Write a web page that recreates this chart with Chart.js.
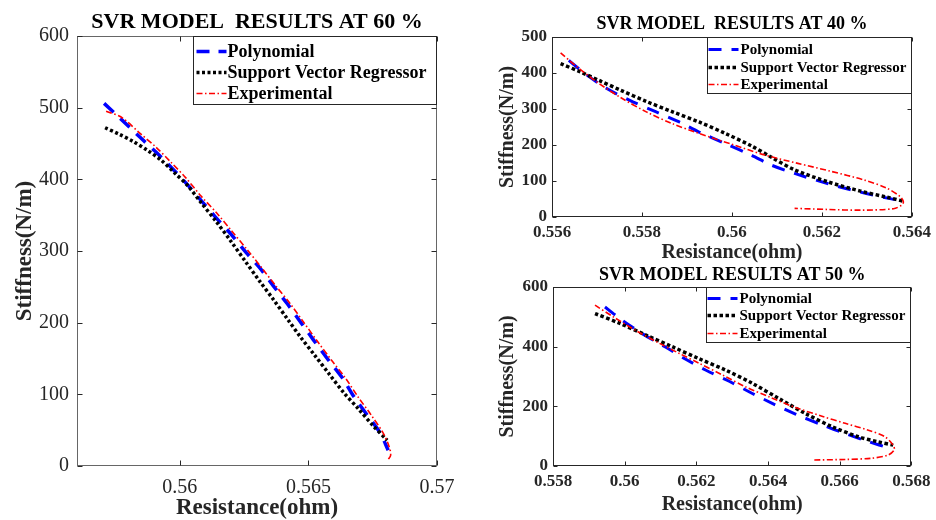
<!DOCTYPE html>
<html>
<head>
<meta charset="utf-8">
<script src="https://cdn.jsdelivr.net/npm/chart.js@4.4.0/dist/chart.umd.min.js"></script>
<style>
html,body{margin:0;padding:0;background:#fff;}
#wrap{position:relative;width:936px;height:520px;overflow:hidden;background:#fff;}
canvas{position:absolute;left:0;top:0;}
</style>
</head>
<body>
<div id="wrap">
<canvas id="c60" width="936" height="520"></canvas>
<canvas id="c40" width="936" height="520"></canvas>
<canvas id="c50" width="936" height="520"></canvas>
</div>
<script>
// ---------- DATA ----------
const seriesNames = ['Polynomial', 'Support Vector Regressor', 'Experimental'];

// 60 %
const res60Poly = [0.557054,0.557713,0.558411,0.559070,0.559574,0.560233,0.560814,0.561395,0.561977,0.562597,0.563140,0.563643,0.564186,0.564690,0.565194,0.565775,0.566318,0.566744,0.567287,0.567791,0.568101];
const stf60Poly = [506,484,460,438,420,395,371,347,324,297,275,251,226,201,176,148,123,98,71,46,22];
const res60Svr = [0.557093,0.557636,0.558178,0.558760,0.559264,0.559767,0.560310,0.560814,0.561395,0.561977,0.562558,0.563101,0.563643,0.564186,0.564690,0.565233,0.565814,0.566357,0.566938,0.567519,0.568062];
const stf60Svr = [472,463,453,440,427,410,391,368,342,314,285,258,232,205,180,155,128,103,80,56,36];
const res60Exp = [0.557132,0.557713,0.558488,0.559070,0.559651,0.560233,0.560814,0.561434,0.562016,0.562636,0.563217,0.563760,0.564302,0.564806,0.565349,0.565891,0.566434,0.566938,0.567442,0.567907,0.568140,0.568198,0.568101];
const stf60Exp = [495,487,463,445,424,402,377,353,328,301,275,250,226,201,174,148,123,96,71,46,27,15,9];

// 40 %
const res40Poly = [0.556374,0.556778,0.557218,0.557730,0.558316,0.558829,0.559268,0.559855,0.560440,0.560879,0.561393,0.562125,0.562857,0.563516,0.563774];
const stf40Poly = [435,394,357,324,292,264,236,204,171,144,121,93,69,51,46];
const res40Svr = [0.556191,0.556631,0.557071,0.557510,0.558097,0.558681,0.559268,0.559855,0.560440,0.560879,0.561393,0.562125,0.562857,0.563444,0.563811];
const stf40Svr = [426,403,378,353,321,292,264,232,197,166,131,98,72,55,44];
const res40Exp = [0.556191,0.556558,0.556998,0.557510,0.558097,0.558681,0.559268,0.560000,0.560734,0.561466,0.562198,0.562932,0.563444,0.563736,0.563811,0.563774,0.563591,0.562857,0.562125,0.561393];
const stf40Exp = [456,417,375,333,292,259,232,202,172,149,127,103,80,57,42,33,23,19,21,24];

// 50 %
const res50Poly = [0.559450,0.559958,0.560512,0.561161,0.561716,0.562271,0.562916,0.563563,0.564117,0.564766,0.565504,0.566152,0.566799,0.567400];
const stf50Poly = [533,486,442,397,357,321,284,243,210,174,138,109,82,59];
const res50Svr = [0.559173,0.559866,0.560607,0.561344,0.562067,0.562825,0.563563,0.564303,0.565043,0.565781,0.566521,0.567076,0.567492];
const stf50Svr = [511,478,438,399,360,321,277,226,176,132,98,81,70];
const res50Exp = [0.559173,0.559681,0.560329,0.560975,0.561530,0.562084,0.562731,0.563380,0.564026,0.564766,0.565504,0.566152,0.566799,0.567262,0.567492,0.567520,0.567353,0.566891,0.566152,0.565274];
const stf50Exp = [539,500,453,411,377,344,305,265,232,196,167,143,120,98,70,54,37,26,22,20];

// tick values and labels
const xTicks60 = [0.56, 0.565, 0.57];
const xLabels60 = ['0.56', '0.565', '0.57'];
const yTicks60 = [0, 100, 200, 300, 400, 500, 600];
const xTicks40 = [0.556, 0.558, 0.56, 0.562, 0.564];
const xLabels40 = ['0.556', '0.558', '0.56', '0.562', '0.564'];
const yTicks40 = [0, 100, 200, 300, 400, 500];
const xTicks50 = [0.558, 0.56, 0.562, 0.564, 0.566, 0.568];
const xLabels50 = ['0.558', '0.56', '0.562', '0.564', '0.566', '0.568'];
const yTicks50 = [0, 200, 400, 600];

const titles = ['SVR MODEL  RESULTS AT 60 %', 'SVR MODEL  RESULTS AT 40 %', 'SVR MODEL RESULTS AT 50 %'];
const xTitle = 'Resistance(ohm)';
const yTitle = 'Stiffness(N/m)';

// ---------- RENDERING ----------
const FONT = "'Liberation Serif','Times New Roman',serif";

function pts(xs, ys) { return xs.map((x, i) => ({ x: x, y: ys[i] })); }

function makeSets(px, py, sx, sy, ex, ey, st) {
  return [
    { label: seriesNames[0], data: pts(px, py), borderColor: '#0000ff', borderWidth: st.polyW, borderDash: st.polyDash, order: 3 },
    { label: seriesNames[1], data: pts(sx, sy), borderColor: '#000000', borderWidth: st.svrW, borderDash: st.svrDash, order: 2 },
    { label: seriesNames[2], data: pts(ex, ey), borderColor: '#ff0000', borderWidth: st.expW, borderDash: st.expDash, order: 1 }
  ].map(d => Object.assign(d, { showLine: true, pointRadius: 0, tension: 0.3, fill: false, borderCapStyle: 'butt' }));
}

const frameLegendPlugin = {
  id: 'frameLegend',
  afterDraw(chart, args, o) {
    const ctx = chart.ctx, a = chart.chartArea, xs = chart.scales.x, ys = chart.scales.y;
    ctx.save();
    const L = Math.round(a.left) + 0.5, R = Math.round(a.right) - 0.5;
    const T = Math.round(a.top) + 0.5, B = Math.round(a.bottom) - 0.5;
    ctx.lineWidth = 1;
    ctx.setLineDash([]);
    ctx.strokeStyle = o.frameColor;
    ctx.strokeRect(L, T, R - L, B - T);
    ctx.strokeStyle = o.tickColor;
    ctx.beginPath();
    xs.ticks.forEach(t => {
      const p = Math.round(xs.getPixelForValue(t.value)) + 0.5;
      ctx.moveTo(p, B); ctx.lineTo(p, B - o.tickLen);
      ctx.moveTo(p, T); ctx.lineTo(p, T + o.tickLen);
    });
    ys.ticks.forEach(t => {
      const p = Math.round(ys.getPixelForValue(t.value)) + 0.5;
      ctx.moveTo(L, p); ctx.lineTo(L + o.tickLen, p);
      ctx.moveTo(R, p); ctx.lineTo(R - o.tickLen, p);
    });
    ctx.stroke();
    // legend box inside the plot, top-right
    const lg = o.legend;
    const bx = R - lg.width, by = T;
    ctx.fillStyle = '#ffffff';
    ctx.fillRect(bx, by, lg.width, lg.height);
    ctx.strokeStyle = lg.border;
    ctx.strokeRect(bx, by, lg.width, lg.height);
    chart.data.datasets.forEach((ds, i) => {
      const y = Math.round(by + lg.rowTop + i * lg.rowGap) + 0.5;
      ctx.save();
      ctx.strokeStyle = ds.borderColor;
      ctx.lineWidth = ds.borderWidth;
      ctx.lineCap = 'butt';
      ctx.setLineDash(ds.borderDash || []);
      ctx.beginPath();
      ctx.moveTo(bx + lg.s0, y);
      ctx.lineTo(bx + lg.s1, y);
      ctx.stroke();
      ctx.restore();
      ctx.fillStyle = '#000';
      ctx.font = lg.font;
      ctx.textBaseline = 'middle';
      ctx.textAlign = 'left';
      ctx.fillText(ds.label, bx + lg.textX, y + 1);
    });
    ctx.restore();
  }
};

function fixedTicks(arr) { return s => { s.ticks = arr.map(v => ({ value: v })); }; }

function makeChart(id, cfg) {
  return new Chart(document.getElementById(id), {
    type: 'scatter',
    data: { datasets: cfg.datasets },
    options: {
      responsive: false,
      animation: false,
      devicePixelRatio: 1,
      events: [],
      layout: { padding: cfg.padding },
      plugins: {
        legend: { display: false },
        tooltip: { enabled: false },
        title: {
          display: true, text: cfg.title, color: '#000', fullSize: false,
          font: { family: FONT, size: cfg.titleSize, weight: 'bold' },
          padding: cfg.titlePad
        },
        frameLegend: cfg.frame
      },
      scales: {
        x: {
          type: 'linear', position: 'bottom', min: cfg.xMin, max: cfg.xMax,
          afterBuildTicks: fixedTicks(cfg.xTicks),
          afterFit: s => { s.height = cfg.xH; },
          grid: { display: false, drawTicks: false },
          border: { display: false },
          ticks: {
            autoSkip: false, maxRotation: 0, minRotation: 0, padding: cfg.xTickPad, color: '#262626',
            font: { family: FONT, size: cfg.tickSize, weight: cfg.tickWeight },
            callback: (v, i) => cfg.xLabels[i]
          },
          title: {
            display: true, text: xTitle, color: '#262626',
            font: { family: FONT, size: cfg.axTitleSize, weight: 'bold', lineHeight: 1 },
            padding: { top: 0, bottom: cfg.xTitlePad }
          }
        },
        y: {
          type: 'linear', position: 'left', min: cfg.yMin, max: cfg.yMax,
          afterBuildTicks: fixedTicks(cfg.yTicks),
          afterFit: s => { s.width = cfg.yW; },
          grid: { display: false, drawTicks: false },
          border: { display: false },
          ticks: {
            autoSkip: false, padding: cfg.yTickPad, color: '#262626',
            font: { family: FONT, size: cfg.tickSize, weight: cfg.tickWeight },
            callback: v => String(v)
          },
          title: {
            display: true, text: yTitle, color: '#262626',
            font: { family: FONT, size: cfg.axTitleSize, weight: 'bold', lineHeight: 1 },
            padding: { top: cfg.yTitlePad, bottom: 0 }
          }
        }
      }
    },
    plugins: [frameLegendPlugin]
  });
}

const styleL = { polyW: 3.5, polyDash: [13, 9], svrW: 3.5, svrDash: [3, 2.5], expW: 1.6, expDash: [6, 2.5, 1.5, 2.5] };
const styleR = { polyW: 3, polyDash: [13, 10], svrW: 3.5, svrDash: [3.5, 2.5], expW: 1.6, expDash: [6, 2.5, 1.5, 2.5] };

makeChart('c60', {
  datasets: makeSets(res60Poly, stf60Poly, res60Svr, stf60Svr, res60Exp, stf60Exp, styleL),
  padding: { left: 0, right: 499, top: 0, bottom: 0 },
  title: titles[0], titleSize: 22, titlePad: { top: 9, bottom: 0.6 },
  xMin: 0.556, xMax: 0.57, xTicks: xTicks60, xLabels: xLabels60,
  yMin: 0, yMax: 600, yTicks: yTicks60,
  xH: 54, yW: 77, xTickPad: 10, yTickPad: 8,
  tickSize: 20, tickWeight: 'normal', axTitleSize: 23, xTitlePad: 0, yTitlePad: 13.5,
  frame: { frameColor: '#666', tickColor: '#262626', tickLen: 5,
    legend: { width: 243, height: 68, rowTop: 14, rowGap: 21, s0: 3, s1: 33, textX: 34, border: '#262626',
      font: "bold 18px 'Liberation Serif','Times New Roman',serif" } }
});

makeChart('c40', {
  datasets: makeSets(res40Poly, stf40Poly, res40Svr, stf40Svr, res40Exp, stf40Exp, styleR),
  padding: { left: 490, right: 23, top: 0, bottom: 255 },
  title: titles[1], titleSize: 18, titlePad: { top: 14, bottom: 1.4 },
  xMin: 0.556, xMax: 0.564, xTicks: xTicks40, xLabels: xLabels40,
  yMin: 0, yMax: 500, yTicks: yTicks40,
  xH: 48, yW: 62, xTickPad: 5, yTickPad: 5,
  tickSize: 17, tickWeight: 'bold', axTitleSize: 20, xTitlePad: 2, yTitlePad: 8,
  frame: { frameColor: '#262626', tickColor: '#262626', tickLen: 4,
    legend: { width: 204, height: 56, rowTop: 11.5, rowGap: 17.5, s0: 1, s1: 31, textX: 33, border: '#262626',
      font: "bold 15px 'Liberation Serif','Times New Roman',serif" } }
});

makeChart('c50', {
  datasets: makeSets(res50Poly, stf50Poly, res50Svr, stf50Svr, res50Exp, stf50Exp, styleR),
  padding: { left: 490, right: 23, top: 260, bottom: 0 },
  title: titles[2], titleSize: 18, titlePad: { top: 4.2, bottom: 1.2 },
  xMin: 0.558, xMax: 0.568, xTicks: xTicks50, xLabels: xLabels50,
  yMin: 0, yMax: 600, yTicks: yTicks50,
  xH: 54, yW: 63, xTickPad: 5.5, yTickPad: 5,
  tickSize: 17, tickWeight: 'bold', axTitleSize: 20, xTitlePad: 5.5, yTitlePad: 8,
  frame: { frameColor: '#262626', tickColor: '#262626', tickLen: 4,
    legend: { width: 204, height: 55, rowTop: 10, rowGap: 17.5, s0: 1, s1: 31, textX: 33, border: '#262626',
      font: "bold 15px 'Liberation Serif','Times New Roman',serif" } }
});
</script>
</body>
</html>
